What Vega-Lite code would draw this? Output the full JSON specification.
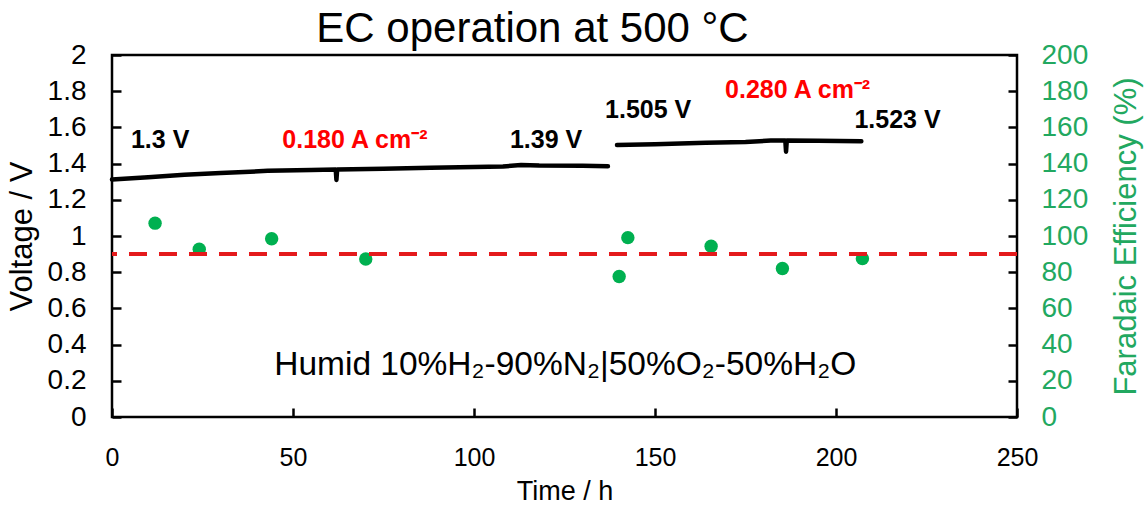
{
  "$schema": "https://vega.github.io/schema/vega-lite/v6.json",
  "width": 905,
  "height": 362,
  "autosize": {"type": "none"},
  "padding": {"left": 112, "top": 55, "right": 129, "bottom": 91},
  "background": "white",
  "config": {
    "view": {"stroke": "black", "strokeWidth": 2.5},
    "font": "Liberation Sans",
    "axis": {
      "grid": false,
      "domain": false,
      "tickColor": "black",
      "labelColor": "black",
      "titleColor": "black",
      "titleFontWeight": "normal",
      "labelFont": "Liberation Sans",
      "titleFont": "Liberation Sans"
    }
  },
  "title": {
    "text": "EC operation at 500 °C",
    "fontSize": 42,
    "font": "Liberation Sans",
    "fontWeight": "normal",
    "anchor": "middle",
    "frame": "group",
    "baseline": "alphabetic",
    "offset": -43,
    "dx": -32,
    "color": "black"
  },
  "datasets": {
    "voltage": [
      {"seg": "a", "t": 0, "V": 1.312},
      {"seg": "a", "t": 10, "V": 1.325},
      {"seg": "a", "t": 20, "V": 1.338},
      {"seg": "a", "t": 30, "V": 1.348},
      {"seg": "a", "t": 43, "V": 1.36},
      {"seg": "a", "t": 55, "V": 1.365},
      {"seg": "a", "t": 61.8, "V": 1.368},
      {"seg": "a", "t": 62, "V": 1.31},
      {"seg": "a", "t": 62.2, "V": 1.368},
      {"seg": "a", "t": 75, "V": 1.372},
      {"seg": "a", "t": 88, "V": 1.377},
      {"seg": "a", "t": 100, "V": 1.381},
      {"seg": "a", "t": 108, "V": 1.384},
      {"seg": "a", "t": 113, "V": 1.392},
      {"seg": "a", "t": 118, "V": 1.389},
      {"seg": "a", "t": 130, "V": 1.388},
      {"seg": "a", "t": 137, "V": 1.385},
      {"seg": "b", "t": 139.5, "V": 1.503},
      {"seg": "b", "t": 150, "V": 1.507},
      {"seg": "b", "t": 164, "V": 1.515},
      {"seg": "b", "t": 175, "V": 1.52},
      {"seg": "b", "t": 182, "V": 1.527},
      {"seg": "b", "t": 186, "V": 1.527},
      {"seg": "b", "t": 186.2, "V": 1.466},
      {"seg": "b", "t": 186.4, "V": 1.527},
      {"seg": "b", "t": 195, "V": 1.526},
      {"seg": "b", "t": 207, "V": 1.524}
    ],
    "blackLabels": [
      {"t": 13.3, "V": 1.486, "label": "1.3 V"},
      {"t": 119.9, "V": 1.486, "label": "1.39 V"},
      {"t": 148.1, "V": 1.65, "label": "1.505 V"},
      {"t": 217, "V": 1.597, "label": "1.523 V"}
    ],
    "redLabels": [
      {"t": 67.1, "V": 1.486, "label": "0.180 A cm⁻²"},
      {"t": 189.4, "V": 1.762, "label": "0.280 A cm⁻²"}
    ],
    "condition": [
      {"t": 125.2, "V": 0.232, "label": "Humid 10%H₂-90%N₂|50%O₂-50%H₂O"}
    ],
    "fe": [
      {"t": 11.9, "FE": 107.1},
      {"t": 24.1, "FE": 92.7},
      {"t": 44.1, "FE": 98.5},
      {"t": 70.1, "FE": 87.3},
      {"t": 140.1, "FE": 77.6},
      {"t": 142.5, "FE": 99.1},
      {"t": 165.5, "FE": 94.4},
      {"t": 185.2, "FE": 82.0},
      {"t": 207.3, "FE": 87.5}
    ],
    "target": [{"FE": 90}]
  },
  "layer": [
    {
      "encoding": {
        "x": {
          "field": "t",
          "type": "quantitative",
          "scale": {"domain": [0, 250], "nice": false, "zero": false},
          "axis": {
            "title": "Time / h",
            "values": [0, 50, 100, 150, 200, 250],
            "labelFlush": false,
            "offset": -9,
            "tickSize": 9,
            "tickWidth": 2.5,
            "labelFontSize": 25,
            "labelPadding": 28,
            "titleFontSize": 27,
            "titlePadding": 8
          }
        },
        "y": {
          "field": "V",
          "type": "quantitative",
          "scale": {"domain": [0, 2], "nice": false, "zero": false},
          "axis": {
            "title": "Voltage / V",
            "values": [0, 0.2, 0.4, 0.6, 0.8, 1, 1.2, 1.4, 1.6, 1.8, 2],
            "format": "~g",
            "labelFlush": false,
            "offset": -9,
            "tickSize": 9,
            "tickWidth": 2.5,
            "labelFontSize": 28,
            "labelPadding": 26,
            "titleFontSize": 31,
            "titlePadding": 9
          }
        }
      },
      "layer": [
        {
          "data": {"name": "voltage"},
          "mark": {"type": "line", "color": "black", "strokeWidth": 4.5, "strokeCap": "round", "strokeJoin": "round"},
          "encoding": {"detail": {"field": "seg"}}
        },
        {
          "data": {"name": "blackLabels"},
          "mark": {"type": "text", "fontSize": 25, "fontWeight": "bold", "color": "black", "align": "center", "baseline": "alphabetic"},
          "encoding": {"text": {"field": "label"}}
        },
        {
          "data": {"name": "redLabels"},
          "mark": {"type": "text", "fontSize": 25, "fontWeight": "bold", "color": "#FF0000", "align": "center", "baseline": "alphabetic"},
          "encoding": {"text": {"field": "label"}}
        },
        {
          "data": {"name": "condition"},
          "mark": {"type": "text", "fontSize": 33.5, "color": "black", "align": "center", "baseline": "alphabetic"},
          "encoding": {"text": {"field": "label"}}
        }
      ]
    },
    {
      "encoding": {
        "y": {
          "field": "FE",
          "type": "quantitative",
          "scale": {"domain": [0, 200], "nice": false, "zero": false},
          "axis": {
            "orient": "right",
            "title": "Faradaic Efficiency (%)",
            "values": [0, 20, 40, 60, 80, 100, 120, 140, 160, 180, 200],
            "labelFlush": false,
            "offset": -9,
            "tickSize": 9,
            "tickWidth": 2.5,
            "labelColor": "#22A860",
            "titleColor": "#22A860",
            "labelFontSize": 28,
            "labelPadding": 24,
            "titleFontSize": 31,
            "titleAngle": 270,
            "titleBaseline": "top",
            "titlePadding": 24
          }
        }
      },
      "layer": [
        {
          "data": {"name": "fe"},
          "mark": {"type": "circle", "color": "#00B050", "opacity": 1, "size": 180},
          "encoding": {
            "x": {
              "field": "t",
              "type": "quantitative",
              "scale": {"domain": [0, 250], "nice": false, "zero": false},
              "axis": {
                "title": "Time / h",
                "values": [0, 50, 100, 150, 200, 250],
                "labelFlush": false,
                "offset": -9,
                "tickSize": 9,
                "tickWidth": 2.5,
                "labelFontSize": 25,
                "labelPadding": 28,
                "titleFontSize": 27,
                "titlePadding": 8
              }
            }
          }
        },
        {
          "data": {"name": "target"},
          "mark": {"type": "rule", "color": "#E41A1C", "strokeWidth": 4, "strokeDash": [18, 12]},
          "encoding": {}
        }
      ]
    }
  ],
  "resolve": {"scale": {"y": "independent"}}
}
